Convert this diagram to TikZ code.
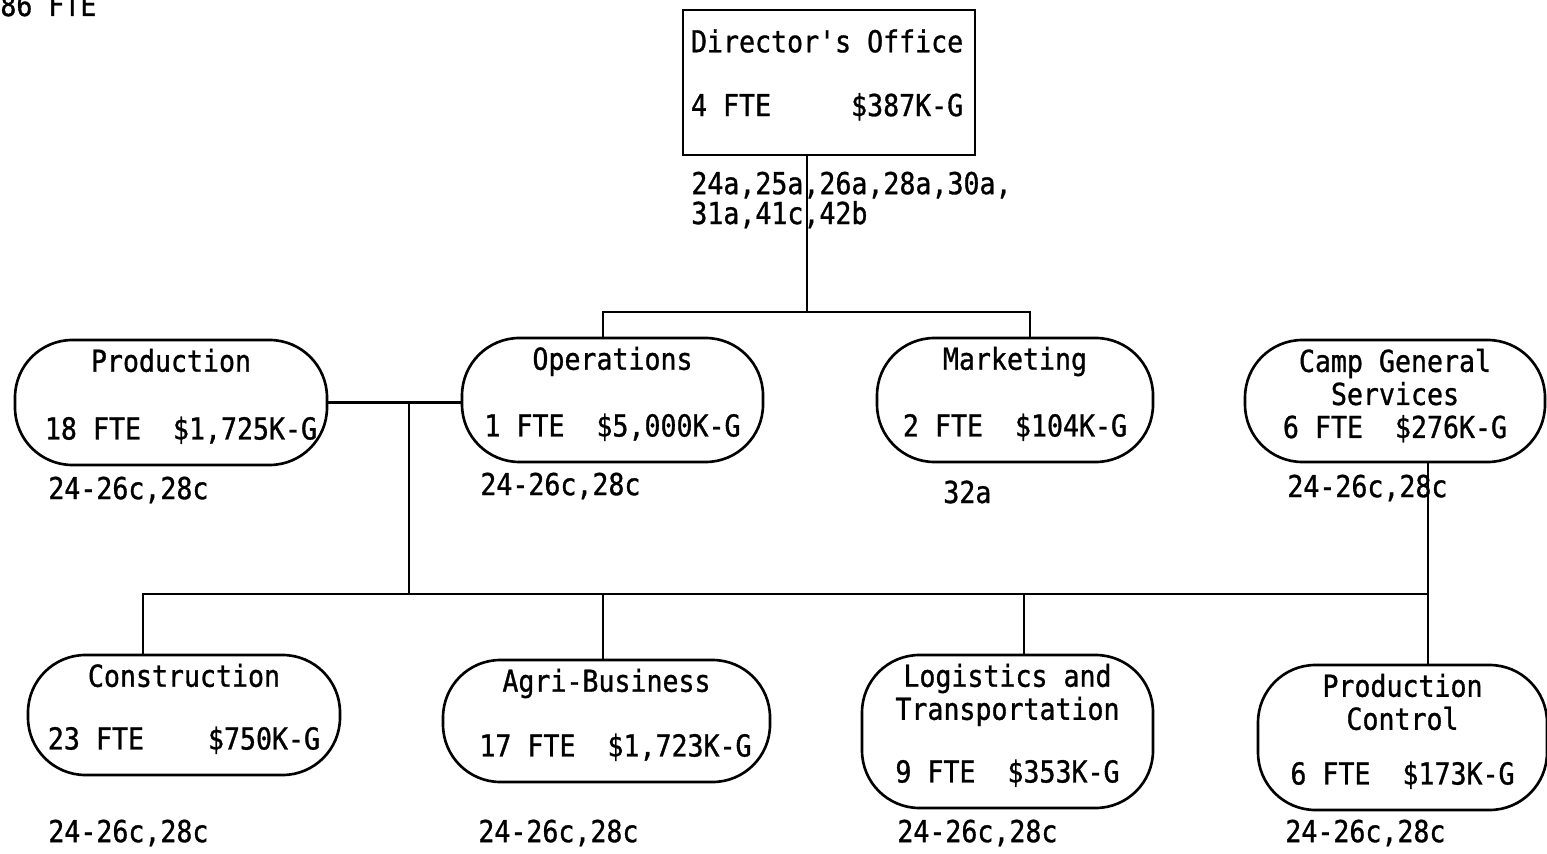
\documentclass[tikz,border=0pt]{standalone}
\usepackage{fontspec}
\setmonofont[FakeStretch=0.88,FakeBold=1]{DejaVu Sans Mono}
\usepackage{tikz}
\newdimen\pxu
\pxu=0.02cm
\newcommand{\UnitText}[4]{\parbox[c][\dimexpr\pxu*#2\relax][s]{\dimexpr\pxu*#1\relax}{\centering\vspace*{5pt}#3\par\vfill #4\par\vspace{12pt}}}
\tikzstyle{OfficeNode}=[draw,line width=1.5pt,inner xsep=0.16cm,inner ysep=0pt]
\tikzstyle{UnitNode}=[draw,line width=1.5pt,rounded corners=1.15cm,inner sep=0pt]
\tikzstyle{CodeText}=[inner sep=0pt,anchor=west]
\tikzstyle{EdgeChart}=[line width=1.5pt]

\begin{document}
\begin{tikzpicture}[x=0.02cm,y=-0.02cm,font=\ttfamily\fontsize{17.2}{18.8}\selectfont]
        \useasboundingbox (0,0) rectangle (1547,854);
        \node[CodeText](total)at(0,5){86 FTE};
        \node[OfficeNode](dir)at(829,82.5){\parbox[c][2.9cm][t]{5.52cm}{\vspace*{11pt}Director's Office\\[17.5pt]4 FTE\ \ \ \ \ \$387K-G}};
        \node[CodeText,align=left,font=\ttfamily\fontsize{17.2}{17}\selectfont](dirref)at(691,200){24a,25a,26a,28a,30a,\\31a,41c,42b};
        % second level
        \node[UnitNode](prod)at(171,402.5){\UnitText{312}{125}{Production}{\hspace*{0.4cm}18 FTE\ \ \$1,725K-G}};
        \node[UnitNode](ops)at(612.5,400){\UnitText{301}{124}{Operations}{1 FTE\ \ \$5,000K-G}};
        \node[UnitNode](mkt)at(1015,400){\UnitText{276}{124}{Marketing}{2 FTE\ \ \$104K-G}};
        \node[UnitNode](camp)at(1395,401){\UnitText{300}{122}{Camp General\\Services}{6 FTE\ \ \$276K-G}};
        \node[CodeText](prodref)at(48,490){24-26c,28c};
        \node[CodeText](opsref)at(480,486){24-26c,28c};
        \node[CodeText](mktref)at(943,492){32a};
        \node[CodeText](campref)at(1287,488){24-26c,28c};
        % third level
        \node[UnitNode](con)at(184,715){\UnitText{312}{120}{Construction}{23 FTE\ \ \ \ \$750K-G}};
        \node[UnitNode](agri)at(606.5,721){\UnitText{327}{122}{Agri-Business}{\hspace*{0.36cm}17 FTE\ \ \$1,723K-G}};
        \node[UnitNode](log)at(1007.5,731.5){\UnitText{291}{153}{Logistics and\\Transportation}{9 FTE\ \ \$353K-G}};
        \node[UnitNode](pc)at(1402.5,737.5){\UnitText{289}{145}{Production\\Control}{6 FTE\ \ \$173K-G}};
        \node[CodeText](conref)at(48,833){24-26c,28c};
        \node[CodeText](agriref)at(478,833){24-26c,28c};
        \node[CodeText](logref)at(897,833){24-26c,28c};
        \node[CodeText](pcref)at(1285,833){24-26c,28c};
        % connectors
        \coordinate(dirbus)at(807,312);
        \coordinate(opsbus)at(603,312);
        \coordinate(mktbus)at(1030,312);
        \coordinate(hub)at(409,594);
        \coordinate(conbus)at(143,594);
        \coordinate(agribus)at(603,594);
        \coordinate(logbus)at(1024,594);
        \coordinate(pcbus)at(1428,594);
        \draw[EdgeChart](dir.south -| dirbus)--(dirbus);
        \draw[EdgeChart](opsbus |- ops.north)--(opsbus)--(mktbus)--(mktbus |- mkt.north);
        \draw[EdgeChart](prod.east)--(prod.east -| ops.west);
        \draw[EdgeChart](hub |- prod.east)--(hub);
        \draw[EdgeChart](conbus |- con.north)--(conbus)--(pcbus)--(pcbus |- pc.north);
        \draw[EdgeChart](agribus)--(agribus |- agri.north);
        \draw[EdgeChart](logbus)--(logbus |- log.north);
        \draw[EdgeChart](pcbus |- camp.south)--(pcbus);
    \end{tikzpicture}
\end{document}
